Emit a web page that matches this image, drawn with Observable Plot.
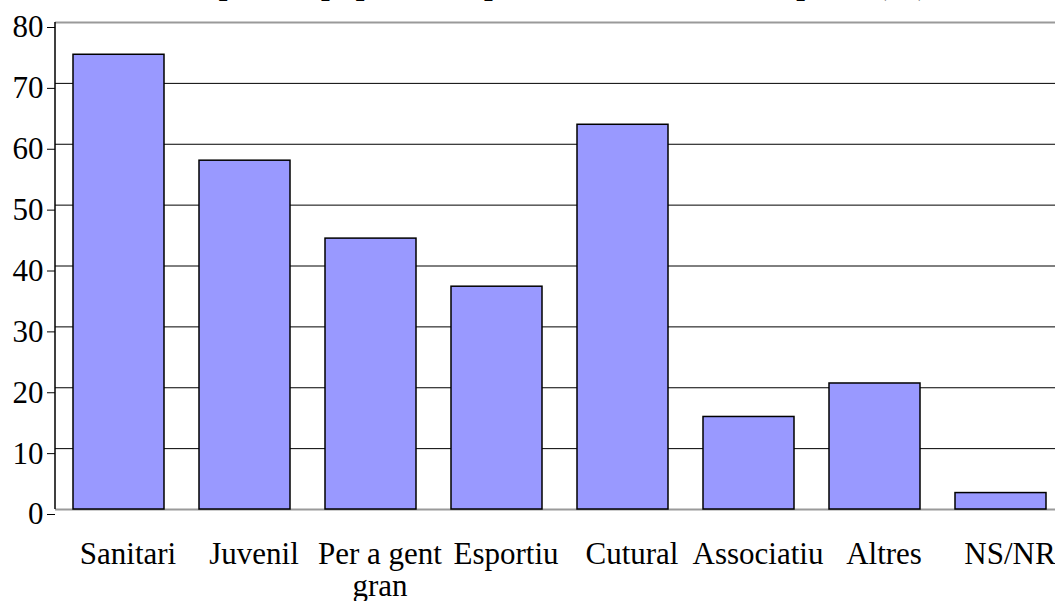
<!DOCTYPE html>
<html>
<head>
<meta charset="utf-8">
<script src="https://cdn.jsdelivr.net/npm/d3@7"></script>
<script src="https://cdn.jsdelivr.net/npm/@observablehq/plot@0.6"></script>
<style>
  html, body { margin: 0; padding: 0; background: white; overflow: hidden; }
  #wrap { position: relative; width: 1055px; height: 601px; overflow: hidden; }
  #title { position: absolute; left: 55px; width: 1008px; top: -32px; text-align: center;
           font-family: "Liberation Serif", serif; font-weight: bold; font-size: 31px; line-height: 31px; white-space: nowrap; }
</style>
</head>
<body>
<div id="wrap">
  <div id="title"></div>
  <div id="chart"></div>
</div>
<script>
const titleText = "Tipus d'equipaments que es troben a faltar al poble (%)";
const categories = ["Sanitari", "Juvenil", "Per a gent gran", "Esportiu", "Cutural", "Associatiu", "Altres", "NS/NR"];
const tickLabels = ["Sanitari", "Juvenil", "Per a gent\ngran", "Esportiu", "Cutural", "Associatiu", "Altres", "NS/NR"];
const values = [74.7, 57.3, 44.5, 36.6, 63.2, 15.2, 20.7, 2.7];
const yTicks = [0, 10, 20, 30, 40, 50, 60, 70, 80];

document.getElementById("title").textContent = titleText;

const data = categories.map((c, i) => ({cat: c, value: values[i]}));
const labelOf = new Map(categories.map((c, i) => [c, tickLabels[i]]));

const axisLine = (index, scales, values, dims) => {
  const g = d3.create("svg:line")
    .attr("x1", dims.marginLeft).attr("x2", dims.marginLeft)
    .attr("y1", scales.y(80)).attr("y2", scales.y(0))
    .attr("stroke", "black").attr("stroke-width", 1.5);
  return g.node();
};

const chart = Plot.plot({
  width: 1055,
  height: 601,
  marginTop: 22,
  marginBottom: 92,
  marginLeft: 55,
  marginRight: -8,
  style: {fontFamily: "'Liberation Serif', 'Times New Roman', serif", fontSize: "31px", background: "white", color: "black"},
  x: {domain: categories, paddingInner: 0.28, paddingOuter: 0.14, axis: null},
  y: {domain: [0, 80], axis: null},
  marks: [
    Plot.ruleY(yTicks.filter(d => d > 0 && d < 80), {stroke: "black", strokeWidth: 1}),
    Plot.ruleY([80], {stroke: "#9a9a9a", strokeWidth: 2}),
    Plot.ruleY([0], {stroke: "#9a9a9a", strokeWidth: 2}),
    Plot.barY(data, {x: "cat", y: "value", fill: "#9999ff", stroke: "black", strokeWidth: 1.5}),
    axisLine,
    Plot.axisY({ticks: yTicks, tickSize: 8, tickPadding: 4, fontSize: 31, dy: 5, label: null, stroke: "black"}),
    Plot.axisX({tickSize: 0, tickPadding: 32, fontSize: 31, dx: 9, lineHeight: 1.03, label: null, tickFormat: d => labelOf.get(d)})
  ]
});
document.getElementById("chart").appendChild(chart);
</script>
</body>
</html>
